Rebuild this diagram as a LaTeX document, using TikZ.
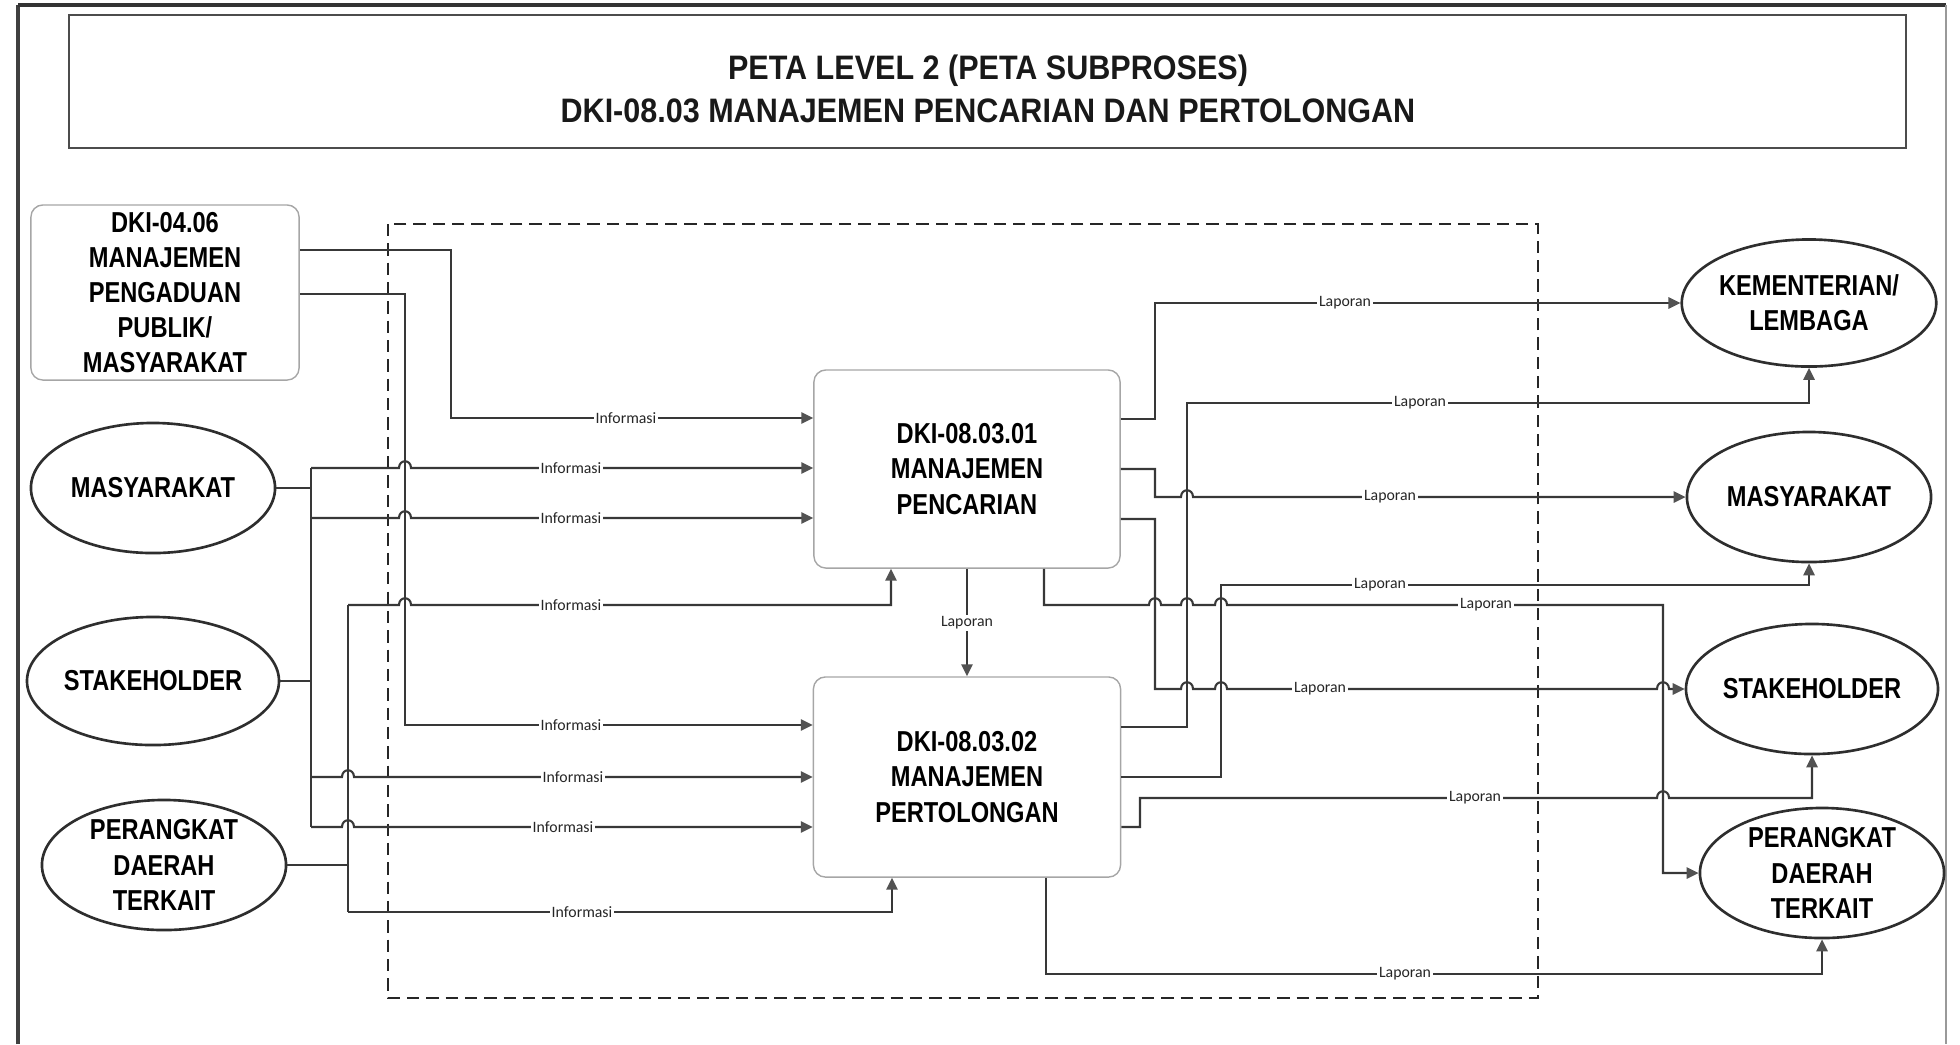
\documentclass[tikz,border=0pt]{standalone}
\usepackage{fontspec}
\usetikzlibrary{arrows.meta,shapes.geometric}
\newfontfamily\narrowfont{Liberation Sans}[FakeStretch=0.82]
\newfontfamily\titlefont{Liberation Sans}[FakeStretch=0.9]
\newfontfamily\labfont{Carlito}
\newcommand\hop[2]{-- ({#1-6},#2) .. controls ({#1-6},{#2-9}) and ({#1+6},{#2-9}) .. ({#1+6},#2)}
\tikzset{
  conn/.style={draw=black!78, line width=0.6pt},
  arr/.style={conn, -{Triangle[length=3.4pt,width=3.2pt,color=black!68]}},
  lab/.style={fill=white, inner sep=0.6pt, font=\labfont\fontsize{4.5}{5}\selectfont, text=black!85},
  ell/.style={ellipse, draw=black!82, line width=0.75pt, inner sep=0pt, align=center,
    minimum width=2.44cm, minimum height=1.3cm,
    font=\narrowfont\bfseries\fontsize{8.2}{10}\selectfont},
  proc/.style={rectangle, rounded corners=0.12cm, draw=black!35, line width=0.4pt, inner sep=0pt,
    align=center, font=\narrowfont\bfseries\fontsize{8.2}{10}\selectfont},
}
\begin{document}
\begin{tikzpicture}[x=0.01cm,y=-0.01cm]
\useasboundingbox (0,0) rectangle (1960,1044);
% outer frame
\draw[black!75, line width=0.9pt] (18,1044) -- (18,5);
\draw[black!80, line width=1.2pt] (18,5) -- (1946,5);
\draw[black!40, line width=0.6pt] (1946,5) -- (1946,1044);
% title
\draw[black!70, line width=0.6pt] (69,15) rectangle (1906,148);
\node[align=center, text=black!90, font=\titlefont\bfseries\fontsize{9.65}{12.2}\selectfont] (title) at (988,89)
  {PETA LEVEL 2 (PETA SUBPROSES)\\DKI-08.03 MANAJEMEN PENCARIAN DAN PERTOLONGAN};
% dashed boundary
\draw[black!85, line width=0.6pt, dash pattern=on 3.5pt off 2pt] (388,224) rectangle (1538,998);
% nodes
\node[proc, minimum width=2.68cm, minimum height=1.75cm] (src) at (165,292.5)
  {DKI-04.06\\MANAJEMEN\\PENGADUAN\\PUBLIK/\\MASYARAKAT};
\node[ell] (masL) at (153,488) {MASYARAKAT};
\node[ell, minimum height=1.28cm] (stkL) at (153,681) {STAKEHOLDER};
\node[ell] (perL) at (164,865) {PERANGKAT\\DAERAH\\TERKAIT};
\node[proc, minimum width=3.06cm, minimum height=1.98cm] (b1) at (967,469)
  {DKI-08.03.01\\MANAJEMEN\\PENCARIAN};
\node[proc, minimum width=3.07cm, minimum height=2.0cm] (b2) at (967,777)
  {DKI-08.03.02\\MANAJEMEN\\PERTOLONGAN};
\node[ell, minimum height=1.27cm] (kem) at (1809,303) {KEMENTERIAN/\\LEMBAGA};
\node[ell] (masR) at (1809,497) {MASYARAKAT};
\node[ell, minimum width=2.42cm] (stkR) at (1812,689) {STAKEHOLDER};
\node[ell] (perR) at (1822,873) {PERANGKAT\\DAERAH\\TERKAIT};
% inputs
\draw[arr] (src.east |- 0,250) -- (451,250) -- (451,418) -- (b1.west |- 0,418);
\node[lab] (i1) at (626,418) {Informasi};
\draw[arr] (src.east |- 0,294) -- (405,294) -- (405,725) -- (b2.west |- 0,725);
\node[lab] (i2) at (571,725) {Informasi};
\draw[conn] (masL.east) -- (311,488);
\draw[conn] (311,468) -- (311,827);
\draw[conn] (stkL.east) -- (311,681);
\draw[arr] (311,468) \hop{405}{468} -- (b1.west |- 0,468);
\node[lab] (i3) at (571,468) {Informasi};
\draw[arr] (311,518) \hop{405}{518} -- (b1.west |- 0,518);
\node[lab] (i4) at (571,518) {Informasi};
\draw[arr] (311,777) \hop{348}{777} -- (b2.west |- 0,777);
\node[lab] (i5) at (573,777) {Informasi};
\draw[arr] (311,827) \hop{348}{827} -- (b2.west |- 0,827);
\node[lab] (i6) at (563,827) {Informasi};
\draw[conn] (perL.east) -- (348,865);
\draw[conn] (348,605) -- (348,912);
\draw[arr] (348,605) \hop{405}{605} -- (891,605) -- (b1.south -| 891,0);
\node[lab] (i7) at (571,605) {Informasi};
\draw[arr] (348,912) -- (892,912) -- (b2.south -| 892,0);
\node[lab] (i8) at (582,912) {Informasi};
% between processes
\draw[arr] (b1.south) -- (b2.north);
\node[lab] (l0) at (967,623) {Laporan};
% outputs
\draw[arr] (b1.east |- 0,419) -- (1155,419) -- (1155,303) -- (kem.west);
\node[lab] (l1) at (1345,303) {Laporan};
\draw[arr] (b1.east |- 0,469) -- (1155,469) -- (1155,497) \hop{1187}{497} -- (masR.west);
\node[lab] (l2) at (1390,497) {Laporan};
\draw[arr] (b1.east |- 0,519) -- (1155,519) -- (1155,689) \hop{1187}{689} \hop{1221}{689} \hop{1663}{689} -- (stkR.west);
\node[lab] (l3) at (1320,689) {Laporan};
\draw[arr] (b1.south -| 1044,0) -- (1044,605) \hop{1155}{605} \hop{1187}{605} \hop{1221}{605} -- (1663,605) -- (perR.west -| 1663,0) -- (perR.west);
\node[lab] (l4) at (1486,605) {Laporan};
\draw[arr] (b2.east |- 0,727) -- (1187,727) -- (1187,403) -| (kem.south);
\node[lab] (l5) at (1420,403) {Laporan};
\draw[arr] (b2.east |- 0,777) -- (1221,777) -- (1221,585) -| (masR.south);
\node[lab] (l6) at (1380,585) {Laporan};
\draw[arr] (b2.east |- 0,827) -- (1140,827) -- (1140,798) \hop{1663}{798} -| (stkR.south);
\node[lab] (l7) at (1475,798) {Laporan};
\draw[arr] (b2.south -| 1046,0) -- (1046,974) -| (perR.south);
\node[lab] (l8) at (1405,974) {Laporan};
\end{tikzpicture}
\end{document}
